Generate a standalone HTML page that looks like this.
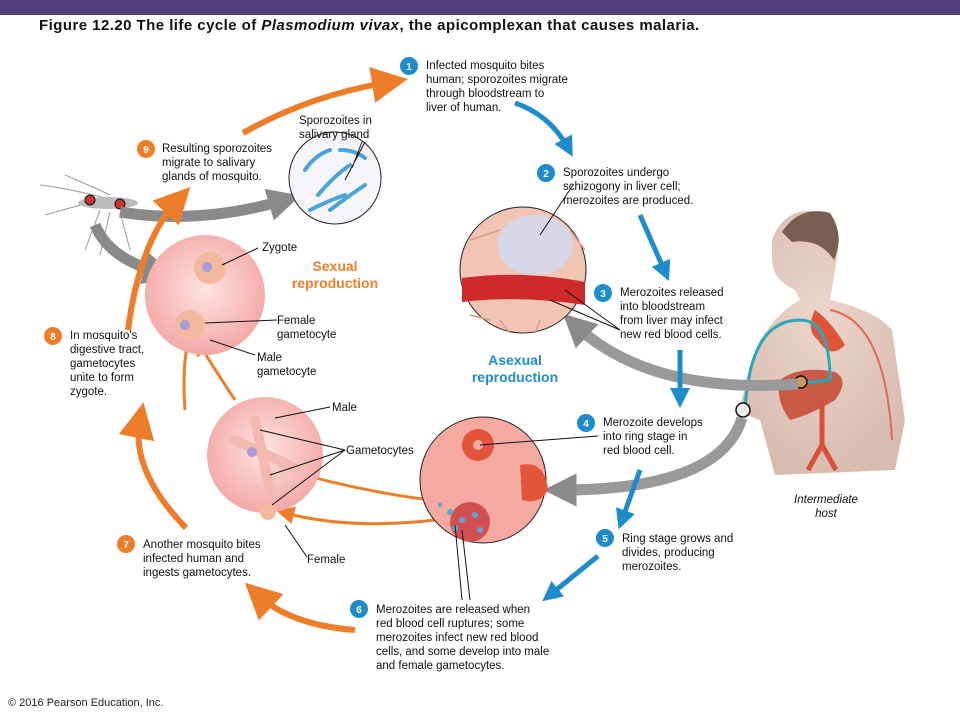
<!DOCTYPE html>
<html><head><meta charset="utf-8"><style>
html,body{margin:0;padding:0;background:#fff}
svg{display:block}
text{font-family:"Liberation Sans",Arial,sans-serif}
.t{font-size:11.5px;fill:#111}
.n{font-size:10px;font-weight:bold;fill:#fff}
</style></head><body>
<svg width="960" height="720" viewBox="0 0 960 720" xmlns="http://www.w3.org/2000/svg">
<defs>
<radialGradient id="pink" cx="50%" cy="45%" r="55%"><stop offset="0" stop-color="#fde3e0"/><stop offset="1" stop-color="#f3a9a6"/></radialGradient>
<radialGradient id="skin" cx="50%" cy="40%" r="60%"><stop offset="0" stop-color="#ecd6cc"/><stop offset="1" stop-color="#d9bcb0"/></radialGradient>
<marker id="ob" markerWidth="6" markerHeight="6" refX="3" refY="3" orient="auto" markerUnits="strokeWidth"><path d="M0,0 L6,3 L0,6 z" fill="#ee7d2a"/></marker>
<marker id="bb" markerWidth="4" markerHeight="4" refX="2" refY="2" orient="auto" markerUnits="strokeWidth"><path d="M0,0 L4,2 L0,4 z" fill="#1e8ccb"/></marker>
<marker id="gb" markerWidth="3" markerHeight="3" refX="1.5" refY="1.5" orient="auto" markerUnits="strokeWidth"><path d="M0,0 L3,1.5 L0,3 z" fill="#8a8a8a"/></marker>
</defs>
<rect x="0" y="0" width="960" height="15" fill="#523e7b"/>
<text x="39" y="30" style="font-size:15px;font-weight:bold;letter-spacing:0.45px" fill="#111">Figure 12.20  The life cycle of <tspan font-style="italic">Plasmodium vivax</tspan>, the apicomplexan that causes malaria.</text>

<!-- human -->
<g>
<path d="M772,240 Q785,205 820,212 Q845,225 835,270 L830,300 Q875,310 892,330 L905,420 L895,470 L775,475 L760,420 L738,412 L760,340 Q780,310 800,300 L795,290 Q772,280 772,258 Z" fill="url(#skin)"/>
<path d="M782,232 Q800,205 830,213 Q845,235 834,260 Q820,238 792,242 Z" fill="#7a5e52"/>
<path d="M845,345 Q830,360 818,340 Q805,330 815,310 Q830,320 845,345 Z" fill="#e0553a"/>
<path d="M780,380 Q800,365 835,372 Q850,380 835,400 Q810,415 790,420 Q775,400 780,380 Z" fill="#c95a45"/>
<path d="M822,400 L822,445 M822,445 L808,470 M822,445 L836,470" stroke="#d9503a" stroke-width="5" fill="none"/>
<path d="M745,410 Q750,320 800,320 Q830,320 830,380 L802,383" stroke="#2aa7b8" stroke-width="3" fill="none"/>
<path d="M830,310 Q885,320 892,440" stroke="#e06a55" stroke-width="2" fill="none"/>
<circle cx="801" cy="382" r="6" fill="#c96" stroke="#111" stroke-width="1.5"/>
<circle cx="743" cy="410" r="7" fill="#eee" stroke="#111" stroke-width="1.5"/>
</g>
<text x="826" y="503" class="t" font-style="italic" text-anchor="middle" font-size="11">Intermediate</text>
<text x="826" y="517" class="t" font-style="italic" text-anchor="middle" font-size="11">host</text>

<!-- mosquito -->
<g stroke="#999" stroke-width="1" fill="none">
<path d="M40,185 Q80,190 130,205 M45,215 Q80,205 100,200 M100,210 L85,250 M110,212 L100,255 M120,212 L130,250 M130,210 L160,215 M65,175 Q100,190 110,195"/>
</g>
<ellipse cx="108" cy="203" rx="30" ry="6" fill="#bbb"/>
<circle cx="90" cy="200" r="5" fill="#c33" stroke="#111"/>
<circle cx="120" cy="204" r="5" fill="#c33" stroke="#111"/>

<!-- gray arrows -->
<path d="M120,212 Q200,225 285,200" stroke="#8a8a8a" stroke-width="11" fill="none" marker-end="url(#gb)"/>
<path d="M95,225 Q110,260 160,272" stroke="#8a8a8a" stroke-width="11" fill="none" marker-end="url(#gb)"/>
<path d="M798,384 Q650,395 575,325" stroke="#999" stroke-width="11" fill="none" marker-end="url(#gb)"/>
<path d="M742,418 Q720,490 560,490" stroke="#999" stroke-width="11" fill="none" marker-end="url(#gb)"/>

<!-- orange arrows -->
<g stroke="#ee7d2a" stroke-width="6" fill="none">
<path d="M243,133 Q310,95 390,82" marker-end="url(#ob)"/>
<path d="M128,330 Q140,240 178,200" marker-end="url(#ob)"/>
<path d="M186,528 Q130,470 140,420" marker-end="url(#ob)"/>
<path d="M355,630 Q290,625 258,595" marker-end="url(#ob)"/>
</g>
<g stroke="#ee7d2a" stroke-width="3" fill="none">
<path d="M185,410 Q182,370 188,340" marker-end="url(#ob)"/>
<path d="M235,400 Q215,370 200,345" marker-end="url(#ob)"/>
<path d="M430,500 Q350,490 270,465" marker-end="url(#ob)"/>
<path d="M435,520 Q350,530 285,513" marker-end="url(#ob)"/>
</g>

<!-- blue arrows -->
<g stroke="#1e8ccb" stroke-width="5" fill="none">
<path d="M515,103 Q550,115 568,148" marker-end="url(#bb)"/>
<path d="M640,215 L665,272" marker-end="url(#bb)"/>
<path d="M680,350 L680,398" marker-end="url(#bb)"/>
<path d="M640,470 L622,520" marker-end="url(#bb)"/>
<path d="M598,556 L550,595" marker-end="url(#bb)"/>
</g>

<!-- circles -->
<circle cx="335" cy="178" r="46" fill="#f6f6fa" stroke="#222"/>
<g stroke="#4aa3d6" stroke-width="4" stroke-linecap="round" fill="none">
<path d="M305,170 Q315,155 330,150"/><path d="M318,195 Q335,175 350,165"/><path d="M330,210 Q350,195 365,185"/><path d="M310,210 Q330,200 345,195"/><path d="M340,150 Q355,150 365,158"/>
</g>
<circle cx="205" cy="295" r="60" fill="url(#pink)"/>
<circle cx="210" cy="268" r="16" fill="#f2b8a0"/><circle cx="207" cy="267" r="5" fill="#a89bd6"/>
<circle cx="190" cy="325" r="15" fill="#f2b8a0"/><circle cx="185" cy="325" r="5" fill="#a89bd6"/>
<circle cx="523" cy="270" r="63" fill="#f2c4b4" stroke="#222"/>
<g stroke="#d89c8c" stroke-width="1.5" fill="none"><path d="M470,240 L500,230 M570,230 L585,250 M500,320 L510,333 M540,320 L535,333 M470,315 L490,320"/></g>
<ellipse cx="535" cy="245" rx="38" ry="30" fill="#d6d6e6"/>
<path d="M462,278 Q520,270 585,282 L585,305 Q520,295 462,302 Z" fill="#cf2a2a"/>
<circle cx="265" cy="455" r="58" fill="url(#pink)"/>
<path d="M235,440 L295,468 M255,420 L270,490" stroke="#f3b8b0" stroke-width="10" stroke-linecap="round"/>
<circle cx="252" cy="452" r="5" fill="#a89bd6"/>
<circle cx="268" cy="512" r="8" fill="#f2b8a0"/>
<circle cx="483" cy="480" r="63" fill="#f4aaa0" stroke="#222"/>
<circle cx="478" cy="445" r="16" fill="#e2553a"/><circle cx="478" cy="445" r="5" fill="#f4aaa0"/>
<path d="M520,465 Q545,460 548,490 Q540,505 522,500 Z" fill="#e2553a"/>
<circle cx="470" cy="522" r="20" fill="#d05050"/>
<g fill="#5aa6d8"><circle cx="450" cy="512" r="3"/><circle cx="462" cy="520" r="3"/><circle cx="475" cy="515" r="3"/><circle cx="455" cy="528" r="3"/><circle cx="480" cy="530" r="3"/><circle cx="440" cy="505" r="2"/></g>

<!-- leader lines -->
<g stroke="#111" stroke-width="1" fill="none">
<path d="M362,142 L352,168 M365,142 L345,180"/>
<path d="M258,248 L222,265"/>
<path d="M277,320 L205,323"/>
<path d="M255,355 L210,340"/>
<path d="M330,407 L275,418"/>
<path d="M345,450 L260,430 M345,450 L270,475"/>
<path d="M307,557 L285,525 M345,450 L272,505"/>
<path d="M573,185 L540,235"/>
<path d="M620,330 L550,300 M620,330 L565,290"/>
<path d="M598,436 L480,445"/>
<path d="M462,530 L470,600 M455,525 L462,600"/>
</g>

<!-- number badges -->
<g>
<circle cx="409" cy="66" r="9" fill="#1e8ccb"/><text x="409" y="70" class="n" text-anchor="middle">1</text>
<circle cx="546" cy="173" r="9" fill="#1e8ccb"/><text x="546" y="177" class="n" text-anchor="middle">2</text>
<circle cx="603" cy="293" r="9" fill="#1e8ccb"/><text x="603" y="297" class="n" text-anchor="middle">3</text>
<circle cx="586" cy="423" r="9" fill="#1e8ccb"/><text x="586" y="427" class="n" text-anchor="middle">4</text>
<circle cx="605" cy="538" r="9" fill="#1e8ccb"/><text x="605" y="542" class="n" text-anchor="middle">5</text>
<circle cx="359" cy="609" r="9" fill="#1e8ccb"/><text x="359" y="613" class="n" text-anchor="middle">6</text>
<circle cx="126" cy="544" r="9" fill="#ee7d2a"/><text x="126" y="548" class="n" text-anchor="middle">7</text>
<circle cx="53" cy="336" r="9" fill="#ee7d2a"/><text x="53" y="340" class="n" text-anchor="middle">8</text>
<circle cx="146" cy="149" r="9" fill="#ee7d2a"/><text x="146" y="153" class="n" text-anchor="middle">9</text>
</g>

<!-- text -->
<g class="t">
<text x="426" y="69" class="t">Infected mosquito bites</text>
<text x="426" y="83" class="t">human; sporozoites migrate</text>
<text x="426" y="97" class="t">through bloodstream to</text>
<text x="426" y="111" class="t">liver of human.</text>
<text x="563" y="176" class="t">Sporozoites undergo</text>
<text x="563" y="190" class="t">schizogony in liver cell;</text>
<text x="563" y="204" class="t">merozoites are produced.</text>
<text x="620" y="296" class="t">Merozoites released</text>
<text x="620" y="310" class="t">into bloodstream</text>
<text x="620" y="324" class="t">from liver may infect</text>
<text x="620" y="338" class="t">new red blood cells.</text>
<text x="603" y="426" class="t">Merozoite develops</text>
<text x="603" y="440" class="t">into ring stage in</text>
<text x="603" y="454" class="t">red blood cell.</text>
<text x="622" y="542" class="t">Ring stage grows and</text>
<text x="622" y="556" class="t">divides, producing</text>
<text x="622" y="570" class="t">merozoites.</text>
<text x="376" y="613" class="t">Merozoites are released when</text>
<text x="376" y="627" class="t">red blood cell ruptures; some</text>
<text x="376" y="641" class="t">merozoites infect new red blood</text>
<text x="376" y="655" class="t">cells, and some develop into male</text>
<text x="376" y="669" class="t">and female gametocytes.</text>
<text x="143" y="548" class="t">Another mosquito bites</text>
<text x="143" y="562" class="t">infected human and</text>
<text x="143" y="576" class="t">ingests gametocytes.</text>
<text x="70" y="339" class="t">In mosquito's</text>
<text x="70" y="353" class="t">digestive tract,</text>
<text x="70" y="367" class="t">gametocytes</text>
<text x="70" y="381" class="t">unite to form</text>
<text x="70" y="395" class="t">zygote.</text>
<text x="162" y="152" class="t">Resulting sporozoites</text>
<text x="162" y="166" class="t">migrate to salivary</text>
<text x="162" y="180" class="t">glands of mosquito.</text>
<text x="299" y="124" class="t">Sporozoites in</text>
<text x="299" y="138" class="t">salivary gland</text>
<text x="262" y="251" class="t">Zygote</text>
<text x="277" y="324" class="t">Female</text>
<text x="277" y="338" class="t">gametocyte</text>
<text x="257" y="361" class="t">Male</text>
<text x="257" y="375" class="t">gametocyte</text>
<text x="332" y="411" class="t">Male</text>
<text x="346" y="454" class="t">Gametocytes</text>
<text x="307" y="563" class="t">Female</text>
</g>
<text x="335" y="271" text-anchor="middle" style="font-size:14px;font-weight:bold" fill="#ee7d2a">Sexual</text>
<text x="335" y="288" text-anchor="middle" style="font-size:14px;font-weight:bold" fill="#ee7d2a">reproduction</text>
<text x="515" y="365" text-anchor="middle" style="font-size:14px;font-weight:bold" fill="#1e8ccb">Asexual</text>
<text x="515" y="382" text-anchor="middle" style="font-size:14px;font-weight:bold" fill="#1e8ccb">reproduction</text>
<text x="8" y="706" style="font-size:11px" fill="#222">© 2016 Pearson Education, Inc.</text>
</svg>
</body></html>
